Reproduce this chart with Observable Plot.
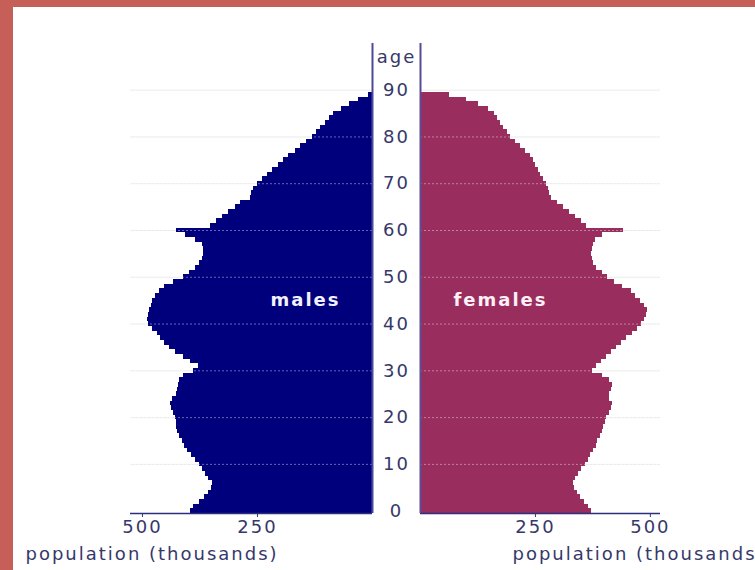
<!DOCTYPE html>
<html><head><meta charset="utf-8">
<script src="https://cdn.jsdelivr.net/npm/d3@7"></script>
<script src="https://cdn.jsdelivr.net/npm/@observablehq/plot@0.6"></script>
<style>
body{margin:0;background:#fff;}
#chart{position:relative;width:755px;height:570px;overflow:hidden;background:#fff;}
.band{position:absolute;background:#c75f59;}
.plot{position:absolute;top:0;}
.plot svg{overflow:hidden;}
</style></head><body>
<div id="chart">
  <div class="band" style="left:0;top:0;width:13px;height:570px"></div>
  <div class="band" style="left:0;top:0;width:755px;height:7px"></div>
  <div class="plot" id="m" style="left:0"></div>
  <div class="plot" id="f" style="left:372px"></div>
</div>
<script>
// ages 0..89 (one-year bands)
const ages = d3.range(0, 90);
// males, thousands, age 0..89
const males = [396,390,376,366,357,350,348,356,362,369,
  376,384,394,402,408,413,419,424,426,427,
  429,432,436,439,434,426,423,421,419,410,
  388,378,396,411,428,442,452,460,468,478,
  486,488,487,484,481,478,471,462,452,432,
  411,398,384,377,370,367,367,369,385,407,
  426,352,340,325,312,298,287,266,262,258,
  251,240,228,217,205,194,182,168,156,143,
  131,122,112,102,93,84,68,50,30,8];
// females, thousands, age 0..89
const females = [371,366,356,348,341,336,333,338,343,350,
  358,365,370,376,382,386,391,395,399,402,
  405,410,415,417,410,411,415,417,410,395,
  374,382,393,404,415,426,437,448,462,472,
  480,487,492,493,488,478,467,460,440,423,
  407,396,383,377,374,373,374,376,381,396,
  442,362,350,338,325,311,297,284,281,278,
  275,268,262,256,250,245,239,228,218,207,
  196,189,181,174,167,160,148,127,101,62];
const decades = [0,10,20,30,40,50,60,70,80,90];
const gridDecades = [10,20,30,40,50,60,70,80,90];
const xTicks = [250, 500];
const ageAxisTop = 100.5;

const maleData = ages.map((a, i) => ({age: a, value: males[i]}));
const femaleData = ages.map((a, i) => ({age: a, value: females[i]}));

const txt = "#36386a";
const style = {fontFamily: "DejaVu Sans, sans-serif", fontSize: "18px", letterSpacing: "2px",
  color: txt, background: "transparent", overflow: "hidden"};

const male = Plot.plot({
  width: 374, height: 570, marginLeft: 130, marginRight: 2, marginTop: 92, marginBottom: 57,
  style,
  x: {domain: [0, 526], reverse: true},
  y: {domain: [0, 90], axis: null},
  marks: [
    Plot.ruleY(gridDecades, {y: d => d + 0.5, stroke: "#e9e9e9"}),
    Plot.rectX(maleData, {y1: "age", y2: d => d.age + 1, x: "value", fill: "#00007d", shapeRendering: "crispEdges"}),
    Plot.ruleY(gridDecades, {y: d => d + 0.5, stroke: "white", strokeOpacity: 0.4, strokeDasharray: "2,2"}),
    Plot.ruleY([0], {stroke: "#2e2e7e", strokeWidth: 1.5}),
    Plot.ruleX([0], {y1: 0, y2: ageAxisTop, stroke: "#4a4a9c", strokeWidth: 2}),
    Plot.axisX({ticks: xTicks, tickSize: 4, tickPadding: 3, label: null, tickFormat: d => String(d)}),
    Plot.text(["males"], {text: d => d, frameAnchor: "right", textAnchor: "middle", lineAnchor: "middle",
      dx: -67, dy: -2.5, fill: "#f2f2ff", fontWeight: "bold", fontSize: 18}),
    Plot.text(["population (thousands)"], {text: d => d, frameAnchor: "bottom-left", textAnchor: "start",
      lineAnchor: "middle", dx: -105, dy: 41, fill: txt})
  ]
});

const female = Plot.plot({
  width: 383, height: 570, marginLeft: 48, marginRight: 95, marginTop: 92, marginBottom: 57,
  style,
  x: {domain: [0, 522]},
  y: {domain: [0, 90], axis: null},
  marks: [
    Plot.ruleY(gridDecades, {y: d => d + 0.5, stroke: "#e9e9e9"}),
    Plot.rectX(femaleData, {y1: "age", y2: d => d.age + 1, x: "value", fill: "#982d5e", shapeRendering: "crispEdges"}),
    Plot.ruleY(gridDecades, {y: d => d + 0.5, stroke: "white", strokeOpacity: 0.4, strokeDasharray: "2,2"}),
    Plot.ruleY([0], {stroke: "#2e2e7e", strokeWidth: 1.5}),
    Plot.ruleX([0], {y1: 0, y2: ageAxisTop, stroke: "#5a4c92", strokeWidth: 2}),
    Plot.axisX({ticks: xTicks, tickSize: 4, tickPadding: 3, label: null, tickFormat: d => String(d)}),
    Plot.text(decades, {y: d => d + 0.5, text: d => String(d), frameAnchor: "left", textAnchor: "middle",
      lineAnchor: "middle", dx: -24, fill: txt}),
    Plot.text(["age"], {text: d => d, frameAnchor: "top-left", textAnchor: "middle", lineAnchor: "middle",
      dx: -24, dy: -35, fill: txt}),
    Plot.text(["females"], {text: d => d, frameAnchor: "left", textAnchor: "middle", lineAnchor: "middle",
      dx: 80, dy: -2.5, fill: "#fff0f6", fontWeight: "bold", fontSize: 18}),
    Plot.text(["population (thousands)"], {text: d => d, frameAnchor: "bottom-left", textAnchor: "start",
      lineAnchor: "middle", dx: 92, dy: 41, fill: txt})
  ]
});

document.getElementById("m").appendChild(male);
document.getElementById("f").appendChild(female);
</script>
</body></html>
